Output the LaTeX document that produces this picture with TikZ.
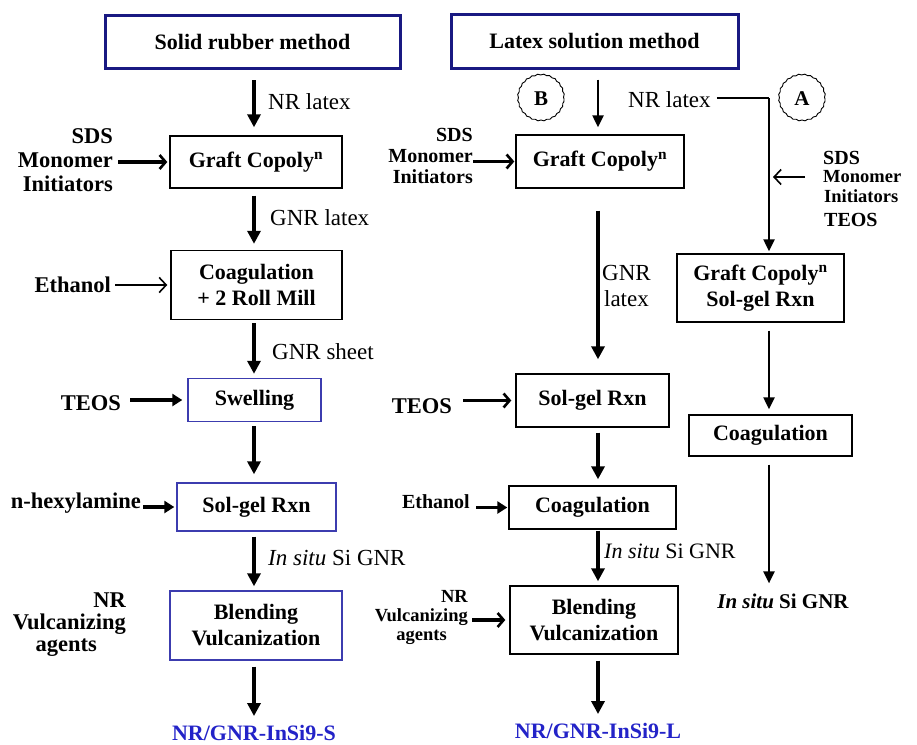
\documentclass[tikz,border=0pt]{standalone}
\usepackage{fontspec}
\setmainfont{Liberation Serif}
\usetikzlibrary{arrows.meta,decorations.pathmorphing}
\definecolor{navyb}{RGB}{25,25,130}
\definecolor{boxb}{RGB}{60,60,175}
\definecolor{outb}{RGB}{35,35,200}
\begin{document}
\begin{tikzpicture}[x=1pt,y=-1pt,
  bfont/.style={font=\bfseries\fontsize{22}{26}\selectfont},
  titlebox/.style={draw=navyb, line width=3pt, bfont, inner sep=0pt, align=center},
  bbox/.style={draw=black, line width=1.4pt, bfont, inner sep=0pt, align=center},
  blbox/.style={draw=boxb, line width=1.4pt, bfont, inner sep=0pt, align=center},
  lbl/.style={font=\fontsize{23}{26}\selectfont, inner sep=0pt, align=left},
  side/.style={font=\bfseries\fontsize{22.5}{24}\selectfont, inner sep=0pt},
  sideM/.style={font=\bfseries\fontsize{20}{21}\selectfont, inner sep=0pt},
  sideS/.style={font=\bfseries\fontsize{18.5}{19}\selectfont, inner sep=0pt},
  outlbl/.style={font=\bfseries\fontsize{22}{25}\selectfont, text=outb, inner sep=0pt},
  arrL/.style={line width=3.3pt, -{Triangle[length=13pt,width=13pt]}},
  arrM/.style={line width=2.3pt, -{Triangle[length=12pt,width=11pt]}},
  sidearr/.style={line width=3.3pt, -{Straight Barb[length=6pt,width=14pt,line width=2.6pt]}},
  sidefill/.style={line width=3.3pt, -{Triangle[length=10pt,width=12pt]}},
  thinbarb/.style={line width=1.6pt, -{Straight Barb[length=7pt,width=15pt,line width=1.6pt]}},
  wavy/.style={draw, circle, minimum size=46pt, inner sep=0pt, line width=0.9pt,
    decorate, decoration={snake, amplitude=0.5pt, segment length=6pt},
    font=\bfseries\fontsize{21}{22}\selectfont}
]
\useasboundingbox[fill=white] (0,0) rectangle (917,744);

% column axes
\coordinate (cL) at (254,0);
\coordinate (cM) at (598,0);
\coordinate (cA) at (769,0);

% ---------- titles ----------
\node[titlebox, minimum width=295pt, minimum height=53pt] (title1) at (252.5,42) {Solid rubber method};
\node[titlebox, minimum width=287pt, minimum height=54pt] (title2) at (594.5,41) {Latex solution method};

% ---------- left column: solid rubber ----------
\node[bbox, minimum width=172pt, minimum height=52pt] (gc1) at (256,162) {Graft Copoly\textsuperscript{n}};
\node[bbox, minimum width=171pt, minimum height=69pt] (coag1) at (256.5,285) {Coagulation\\+ 2 Roll Mill};
\node[blbox, minimum width=133pt, minimum height=43pt] (swell) at (254.5,400) {Swelling};
\node[blbox, minimum width=159pt, minimum height=48pt] (sg1) at (256.5,507) {Sol-gel Rxn};
\node[blbox, minimum width=172pt, minimum height=69pt] (blend1) at (256,625.5) {Blending\\Vulcanization};
\node[outlbl] (out1) at (254,733) {NR/GNR-InSi9-S};

\node[lbl, anchor=west] (nrl1) at (268,102) {NR latex};
\node[lbl, anchor=west] (gnrl1) at (270,218) {GNR latex};
\node[lbl, anchor=west] (gnrs) at (272,352) {GNR sheet};
\node[lbl, anchor=west] (ins1) at (268,558) {\textit{In situ} Si GNR};

\node[side, anchor=east, align=right] (sds1) at (113,160) {SDS\\Monomer\\Initiators};
\node[side, anchor=east] (eth1) at (111,285) {Ethanol};
\node[side, anchor=east] (teos1) at (121,403) {TEOS};
\node[side, anchor=east] (hex) at (141,503) {n-hexylamine};
\node[side, font=\bfseries\fontsize{22.5}{22}\selectfont, anchor=east, align=right] (nrv1) at (126,625) {NR\\Vulcanizing\\agents\rule{29pt}{0pt}};

\draw[arrL] ([yshift=-10pt]title1.south -| cL) -- ([yshift=8pt]gc1.north -| cL);
\draw[arrL] ([yshift=-7pt]gc1.south -| cL) -- ([yshift=6pt]coag1.north -| cL);
\draw[arrL] ([yshift=-3pt]coag1.south -| cL) -- ([yshift=4pt]swell.north -| cL);
\draw[arrL] ([yshift=-4pt]swell.south -| cL) -- ([yshift=8pt]sg1.north -| cL);
\draw[arrL] ([yshift=-5pt]sg1.south -| cL) -- ([yshift=4pt]blend1.north -| cL);
\draw[arrL] ([yshift=-6pt]blend1.south -| cL) -- ([yshift=9pt]out1.north -| cL);

\draw[sidearr, shorten <=5pt, shorten >=2pt] (sds1.east |- gc1.west) -- (gc1.west);
\draw[thinbarb, shorten <=4pt, shorten >=3pt] (eth1.east |- coag1.west) -- (coag1.west);
\draw[sidefill, shorten <=9pt, shorten >=5pt] (teos1.east |- swell.west) -- (swell.west);
\draw[sidefill, shorten <=2pt, shorten >=2pt] (hex.east |- sg1.west) -- (sg1.west);

% ---------- middle column: latex route B ----------
\node[wavy] (cirB) at (541,99) {B};
\node[bbox, minimum width=168pt, minimum height=53pt] (gc2) at (600,161.5) {Graft Copoly\textsuperscript{n}};
\node[bbox, minimum width=153pt, minimum height=53pt] (sg2) at (592.5,400.5) {Sol-gel Rxn};
\node[bbox, minimum width=167pt, minimum height=43pt] (coag2) at (592.5,507.5) {Coagulation};
\node[bbox, minimum width=168pt, minimum height=68pt] (blend2) at (594,620) {Blending\\Vulcanization};
\node[outlbl] (out2) at (598,731) {NR/GNR-InSi9-L};

\node[lbl, anchor=west] (nrl2) at (628,100) {NR latex};
\node[lbl, anchor=west, align=center] (gnrl2) at (602,286) {GNR\\latex};
\node[lbl, font=\fontsize{22}{25}\selectfont, anchor=west] (ins2) at (604,551) {\textit{In situ} Si GNR};

\node[sideM, anchor=east, align=right] (sds2) at (473,156) {SDS\\Monomer\\Initiators};
\node[side, anchor=east] (teos2) at (452,406) {TEOS};
\node[sideM, anchor=east] (eth2) at (470,502) {Ethanol};
\node[sideS, anchor=east, align=right] (nrv2) at (468,617) {NR\\Vulcanizing\\agents\rule{21pt}{0pt}};

\draw[arrM] ([yshift=-10pt]title2.south -| cM) -- ([yshift=7pt]gc2.north -| cM);
\draw[arrL] ([yshift=-22pt]gc2.south -| cM) -- ([yshift=14pt]sg2.north -| cM);
\draw[arrL] ([yshift=-5pt]sg2.south -| cM) -- ([yshift=6pt]coag2.north -| cM);
\draw[arrL] ([yshift=-1pt]coag2.south -| cM) -- ([yshift=4pt]blend2.north -| cM);
\draw[arrL] ([yshift=-6pt]blend2.south -| cM) -- ([yshift=9pt]out2.north -| cM);

\draw[sidearr, shorten <=0pt, shorten >=1pt] (sds2.east |- gc2.west) -- (gc2.west);
\draw[sidearr, shorten <=11pt, shorten >=4pt] (teos2.east |- sg2.west) -- (sg2.west);
\draw[sidefill, shorten <=6pt, shorten >=1pt] (eth2.east |- coag2.west) -- (coag2.west);
\draw[sidearr, shorten <=4pt, shorten >=4pt] (nrv2.east |- blend2.west) -- (blend2.west);

% ---------- right column: latex route A ----------
\node[wavy] (cirA) at (802,99) {A};
\node[bbox, minimum width=167pt, minimum height=68pt] (gcA) at (760.5,288) {Graft Copoly\textsuperscript{n}\\Sol-gel Rxn};
\node[bbox, minimum width=163pt, minimum height=41pt] (coagA) at (770.5,435.5) {Coagulation};
\node[side, font=\bfseries\itshape\fontsize{21}{25}\selectfont] (insA) at (783,601) {In situ \textup{Si GNR}};

\node[side, anchor=west, font=\bfseries\fontsize{20}{22}\selectfont] (sdsA) at (823,158) {SDS};
\node[sideS, anchor=west] (monA) at (823,177) {Monomer};
\node[sideS, anchor=west] (iniA) at (824,196) {Initiators};
\node[side, anchor=west, font=\bfseries\fontsize{20}{22}\selectfont] (teosA) at (824,220) {TEOS};

\coordinate (kA) at (769,98);
\draw[line width=2.2pt] ([xshift=6pt]nrl2.east |- kA) -- (kA);
\draw[arrM] (kA) -- ([yshift=2pt]gcA.north -| cA);
\draw[arrM] ([yshift=-8pt]gcA.south -| cA) -- ([yshift=5pt]coagA.north -| cA);
\draw[arrM] ([yshift=-8pt]coagA.south -| cA) -- ([yshift=10pt]insA.north -| cA);
\draw[thinbarb, shorten <=18pt, shorten >=4pt] (monA.west) -- (monA.west -| cA);
\end{tikzpicture}
\end{document}
